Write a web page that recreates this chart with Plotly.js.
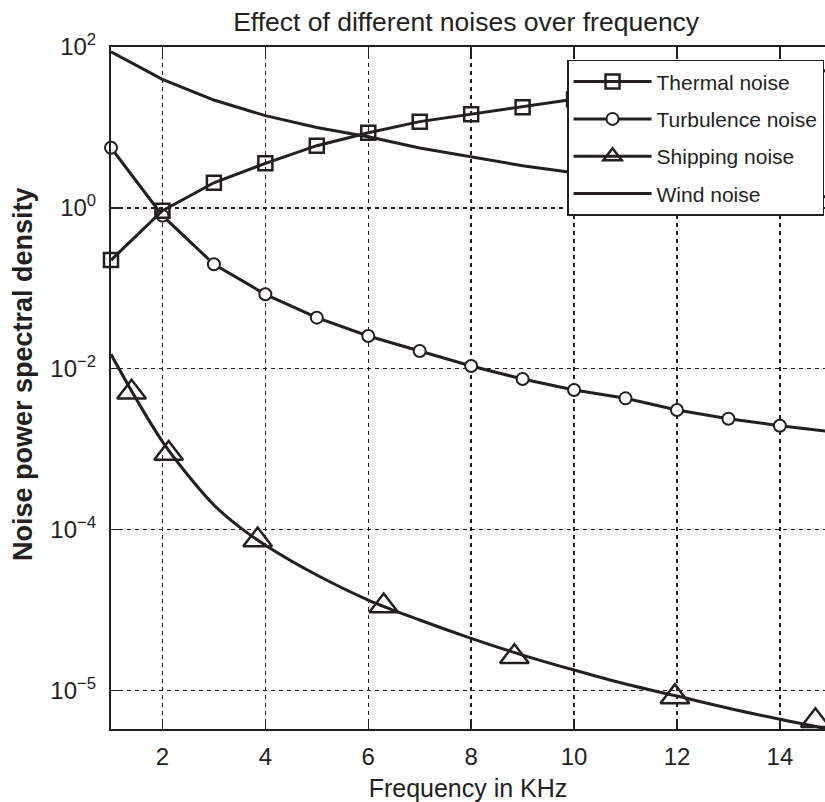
<!DOCTYPE html>
<html>
<head>
<meta charset="utf-8">
<script src="https://cdn.plot.ly/plotly-3.0.1.min.js"></script>
<style>html,body{margin:0;padding:0;background:#fff;}#chart{width:825px;height:802px;}</style>
</head>
<body>
<div id="chart"></div>
<script>
// Frequency in kHz
const freq = [1,2,3,4,5,6,7,8,9,10,11,12,13,14,15];
const thermalNoise = [0.224,0.92,2.05,3.58,5.93,8.6,11.8,14.6,17.8,22.4,26.9,32.4,38,44.7,51.8];
const turbulenceNoise = [5.6,0.8,0.199,0.0841,0.0431,0.0255,0.0166,0.0108,0.00744,0.00543,0.00428,0.00306,0.00239,0.00195,0.00164];
const windNoise = [87.4,39.6,21.9,14.0,10.0,7.67,5.55,4.32,3.34,2.73,2.34,2.04,1.78,1.55,1.35];
// Shipping noise: curve and its marker positions
const shipFreq = [1,1.5,2,2.5,3,3.5,4,5,6,7,8,9,10,11,12,13,14,15];
const shippingNoise = [0.0151,0.0041,0.00124,4.7e-4,2.02e-4,1.07e-4,6.4e-5,2.72e-5,1.33e-5,7.5e-6,4.44e-6,2.75e-6,1.79e-6,1.2e-6,8.5e-7,6.0e-7,4.37e-7,3.25e-7];
const shipMarkFreq = [1.4,2.12,3.85,6.3,8.84,11.96,14.69];
const shipMarkNoise = [0.0051,8.8e-4,7.4e-5,1.12e-5,2.62e-6,8.3e-7,4.2e-7];
// Tick labels
const xTicks = [2,4,6,8,10,12,14];
const yTickVals = [1e2,1e0,1e-2,1e-4,1e-6];
const yTickText = ['10<sup>2</sup>','10<sup>0</sup>','10<sup>\u22122</sup>','10<sup>\u22124</sup>','10<sup>\u22125</sup>'];
const seriesNames = ['Thermal noise','Turbulence noise','Shipping noise','Wind noise'];

const INK = '#231f20';
const FONT = 'Liberation Sans, Arial, Helvetica, sans-serif';

const traces = [
  {x: shipFreq, y: shippingNoise, legendgroup:'g3', showlegend:false, mode:'lines',
   line:{color:INK,width:3,shape:'spline',smoothing:1}},
  {x: shipMarkFreq, y: shipMarkNoise, legendgroup:'g3', showlegend:false, mode:'markers', cliponaxis:false,
   marker:{symbol:'triangle-up-open',size:25,color:INK,line:{width:2.5,color:INK}}},
  {x: freq, y: windNoise, name: seriesNames[3], legendgroup:'g4', legendrank:4, mode:'lines',
   line:{color:INK,width:3}},
  {x: freq, y: turbulenceNoise, name: seriesNames[1], legendgroup:'g2', legendrank:2, mode:'lines+markers', cliponaxis:false,
   line:{color:INK,width:3}, marker:{symbol:'circle',size:12,color:'#ffffff',line:{width:2,color:INK}}},
  {x: freq, y: thermalNoise, name: seriesNames[0], legendgroup:'g1', legendrank:1, mode:'lines+markers', cliponaxis:false,
   line:{color:INK,width:3}, marker:{symbol:'square-open',size:14,color:INK,line:{width:2.5,color:INK}}},
  {x: [null], y: [null], name: seriesNames[2], legendgroup:'g3', legendrank:3, mode:'lines+markers',
   line:{color:INK,width:3}, marker:{symbol:'triangle-up-open',size:25,color:INK,line:{width:2.5,color:INK}}}
];

const layout = {
  width: 825, height: 802,
  margin: {l:111, r:0, t:47, b:73, pad:0},
  paper_bgcolor:'#ffffff', plot_bgcolor:'#ffffff',
  font: {family: FONT, color: INK, size: 24},
  showlegend: true,
  title: {text:'Effect of different noises over frequency', font:{size:26.5, family:FONT, color:INK},
          x: 0.565, xref:'container', xanchor:'center', y: 0.973, yref:'container', yanchor:'middle'},
  xaxis: {
    type:'linear', range:[1, 14.877], tickvals: xTicks, ticktext: xTicks.map(String),
    ticks:'inside', ticklen:8, tickwidth:1.5, tickcolor:INK,
    showline:true, linecolor:INK, linewidth:2, mirror:'ticks',
    showgrid:true, gridcolor:INK, gridwidth:1.5, griddash:'4px,4px',
    zeroline:false, tickfont:{size:24, family:FONT, color:INK}, ticklabelstandoff:5,
    title:{text:'Frequency in KHz', font:{size:25, family:FONT, color:INK}, standoff:14}
  },
  yaxis: {
    type:'log', range:[-6.48, 2], tickvals: yTickVals, ticktext: yTickText,
    ticks:'inside', ticklen:8, tickwidth:1.5, tickcolor:INK,
    showline:true, linecolor:INK, linewidth:2, mirror:false,
    showgrid:true, gridcolor:INK, gridwidth:1.5, griddash:'4px,4px',
    zeroline:false, tickfont:{size:24, family:FONT, color:INK}, ticklabelstandoff:8
  },
  legend: {
    x: 0.6387, y: 0.981, xanchor:'left', yanchor:'top', xref:'paper', yref:'paper',
    bgcolor:'#ffffff', bordercolor:INK, borderwidth:1.5,
    font:{size:21, family:FONT, color:INK}, traceorder:'grouped', tracegroupgap:7,
    itemwidth:78
  },
  annotations: [{
    text:'<b>Noise power spectral density</b>', xref:'paper', yref:'paper',
    x:-0.1232, y:0.5205, xanchor:'center', yanchor:'middle', textangle:-90, showarrow:false,
    font:{size:27, family:FONT, color:INK}
  }]
};

Plotly.newPlot('chart', traces, layout, {displayModeBar:false, staticPlot:true});
</script>
</body>
</html>
